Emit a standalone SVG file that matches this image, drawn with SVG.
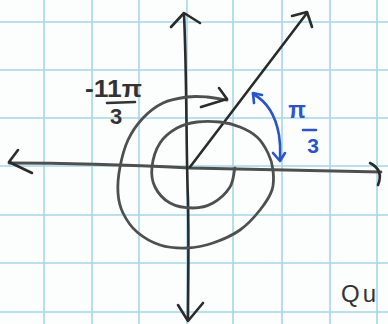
<svg xmlns="http://www.w3.org/2000/svg" width="388" height="324" viewBox="0 0 388 324">
<style>
.grid{stroke:#a6d6e6;stroke-width:1.6;fill:none}
.ink{stroke:#2b2b2b;stroke-width:2.6;fill:none;stroke-linecap:round;stroke-linejoin:round}
.gray{stroke:#4f4f4f;stroke-width:2.8;fill:none;stroke-linecap:round;stroke-linejoin:round}
.blue{stroke:#2a55c8;stroke-width:2.6;fill:none;stroke-linecap:round;stroke-linejoin:round}
.lbl{font-family:"Liberation Sans",Arial,sans-serif;font-weight:bold;fill:#333}
.blbl{font-family:"Liberation Sans",Arial,sans-serif;font-weight:bold;fill:#2a55c8}
</style>
<rect width="388" height="324" fill="#fcfdfd"/>
<g id="grid" class="grid">
<line x1="44" y1="0" x2="44" y2="324"/>
<line x1="92" y1="0" x2="92" y2="324"/>
<line x1="139" y1="0" x2="139" y2="324"/>
<line x1="187" y1="0" x2="187" y2="324"/>
<line x1="233" y1="0" x2="233" y2="324"/>
<line x1="282" y1="0" x2="282" y2="324"/>
<line x1="330" y1="0" x2="330" y2="324"/>
<line x1="377" y1="0" x2="377" y2="324"/>
<line x1="0" y1="22" x2="388" y2="22"/>
<line x1="0" y1="70" x2="388" y2="70"/>
<line x1="0" y1="118" x2="388" y2="118"/>
<line x1="0" y1="166" x2="388" y2="166"/>
<line x1="0" y1="215" x2="388" y2="215"/>
<line x1="0" y1="263" x2="388" y2="263"/>
<line x1="0" y1="312" x2="388" y2="312"/>
</g>
<g id="connectors">
<g id="x-axis">
<path class="gray" d="M9,163 C80,163 150,166 190,168 C260,170 330,171 381,172"/>
<path class="ink" d="M18,150 L9,162 L32,173"/>
<path class="ink" d="M370,163 Q384,170 378,185"/>
</g>
<g id="y-axis">
<path class="ink" d="M184,14 C187,80 186,150 188,200 C189,250 188,290 188,320"/>
<path class="ink" d="M171,27 L184,13 L200,23"/>
<path class="ink" d="M178,305 L188,321 L203,303"/>
</g>
<g id="ray">
<path class="ink" d="M190,167 L307,13"/>
<path class="ink" d="M292,16 L307,12 L312,27"/>
</g>
<g id="spiral">
<path class="gray" d="M235,168 C233.3,174.3 233.7,181.2 230,187 C226.3,192.8 219.2,199.5 213,203 C206.8,206.5 200.2,208 193,208 C185.8,208 176.3,206.5 170,203 C163.7,199.5 158,193 155,187 C152,181 151.2,174.3 152,167 C152.8,159.7 155.8,149.5 160,143 C164.2,136.5 170.8,131.5 177,128 C183.2,124.5 189.8,123 197,122 C204.2,121 212.8,121.2 220,122 C227.2,122.8 233.8,124.5 240,127 C246.2,129.5 252.3,132.7 257,137 C261.7,141.3 265.3,147.5 268,153 C270.7,158.5 272.3,163.8 273,170 C273.7,176.2 274.2,183.3 272,190 C269.8,196.7 265.3,203.3 260,210 C254.7,216.7 247.8,224.5 240,230 C232.2,235.5 221.8,240 213,243 C204.2,246 195.8,247.7 187,248 C178.2,248.3 168.3,247.7 160,245 C151.7,242.3 143.2,237.3 137,232 C130.8,226.7 126.2,219.5 123,213 C119.8,206.5 118.5,200.7 118,193 C117.5,185.3 118.3,175.8 120,167 C121.7,158.2 124.2,148.2 128,140 C131.8,131.8 137.2,124.2 143,118 C148.8,111.8 155.7,106.5 163,103 C170.3,99.5 179.7,98 187,97 C194.3,96 200.3,96.5 207,97 C213.7,97.5 220.3,99 227,100"/>
<path class="ink" d="M219,88 L227,99 L201,107"/>
</g>
<g id="blue-arc">
<path class="blue" d="M253,94 C268,102 276,118 279,135 C281,148 280,155 280,160"/>
<path class="blue" d="M262,95 L253,93 L254,103"/>
<path class="blue" d="M273,153 L280,161 L285,153"/>
</g>
</g>
<g id="label-neg">
<text class="lbl" x="85" y="97" font-size="23" textLength="57" lengthAdjust="spacingAndGlyphs">-11π</text>
<line x1="107" y1="103" x2="135" y2="102" stroke="#333" stroke-width="2.6" stroke-linecap="round"/>
<text class="lbl" x="116" y="124" font-size="22" text-anchor="middle">3</text>
</g>
<g id="label-pos">
<text class="blbl" x="297" y="118" font-size="23" text-anchor="middle">π</text>
<line x1="303" y1="130" x2="316" y2="130" stroke="#2a55c8" stroke-width="2.6" stroke-linecap="round"/>
<text class="blbl" x="313" y="153" font-size="21" text-anchor="middle">3</text>
</g>
<g id="label-qu">
<text x="341" y="302" font-size="24" letter-spacing="3" font-family="Liberation Sans, Arial, sans-serif" fill="#333">Qu</text>
</g>
</svg>
